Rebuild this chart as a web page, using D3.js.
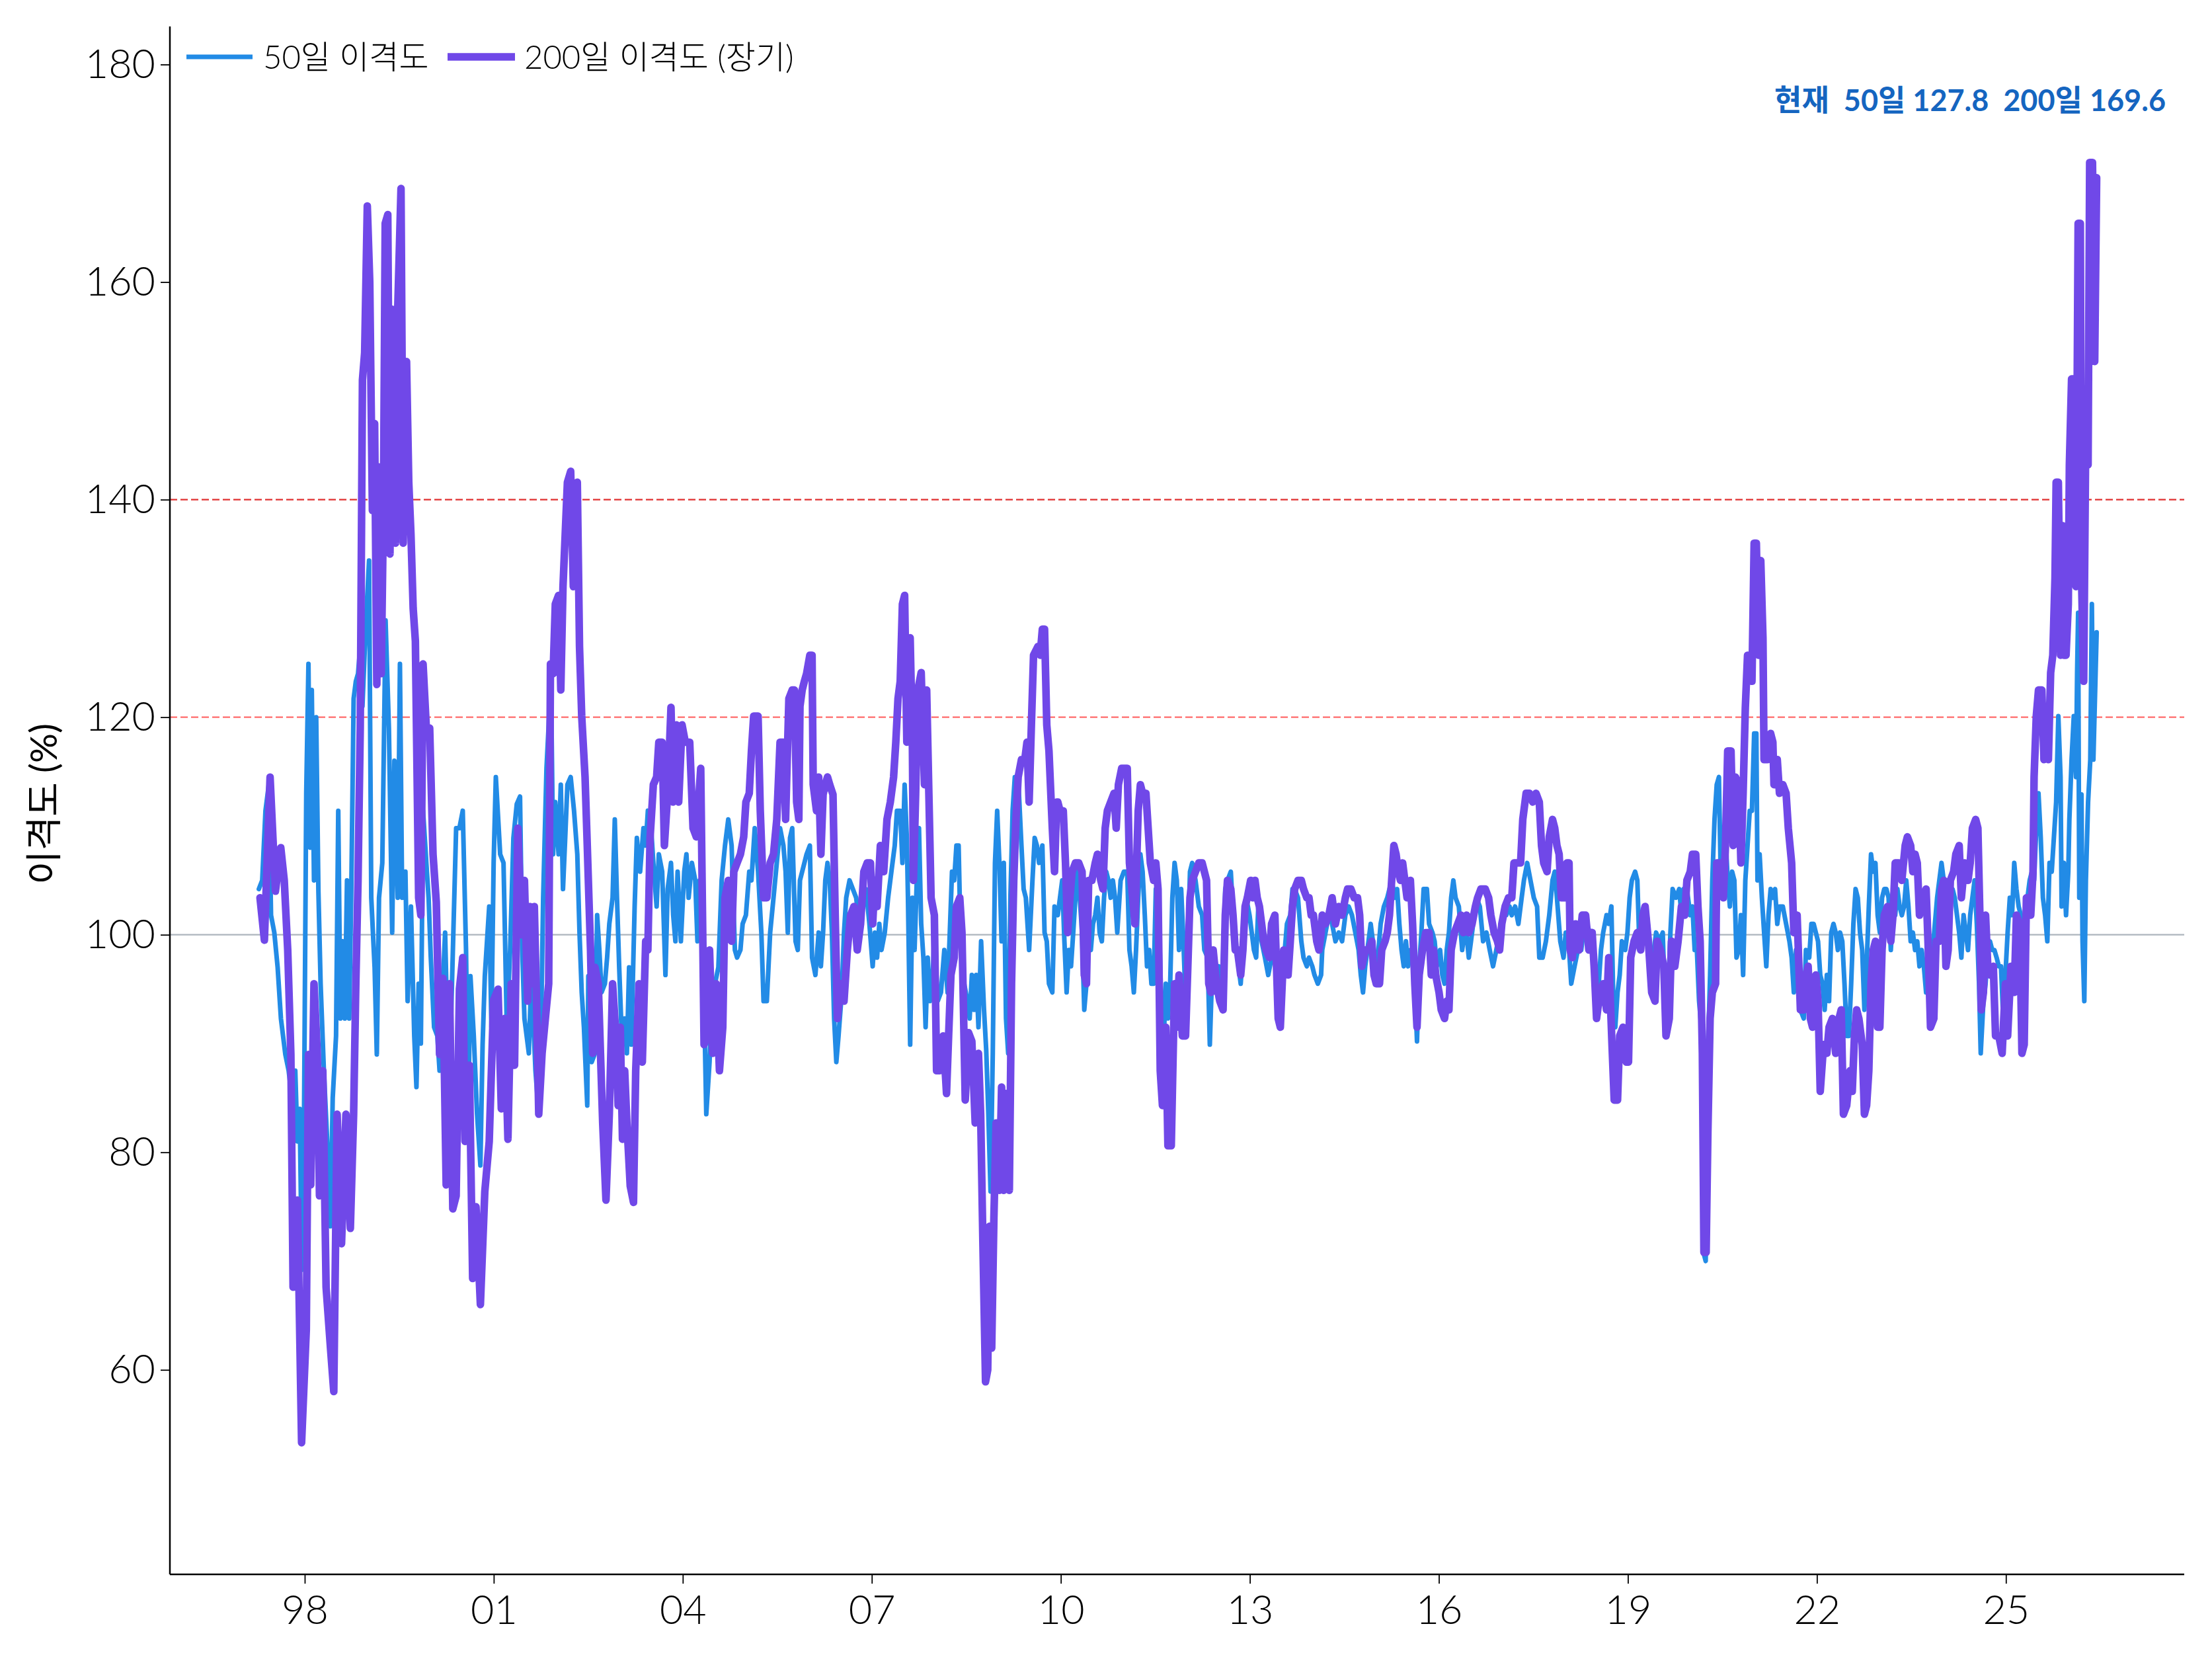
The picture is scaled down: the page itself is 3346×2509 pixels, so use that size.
<!DOCTYPE html>
<html>
<head>
<meta charset="utf-8">
<script src="https://cdn.jsdelivr.net/npm/d3@7"></script>
<style>
  html, body { margin: 0; padding: 0; background: #fff; }
  svg text { font-family: "Lato", "Noto Sans CJK KR", sans-serif; font-weight: 300; fill: #000; }
</style>
</head>
<body>
<svg id="chart" width="3346" height="2509"></svg>
<script>
// 50일 이격도: [decimal year, %]
const disp50 = [
  [1997.272,104.2],[1997.325,105],[1997.377,111.4],[1997.43,113.8],[1997.465,101.8],[1997.517,100.2],[1997.57,97],[1997.622,92.3],
  [1997.692,89],[1997.745,87.5],[1997.797,85],[1997.85,87.5],[1997.884,81],[1997.92,84],[1997.954,69.2],[1997.99,84.3],
  [1998.024,113],[1998.059,124.9],[1998.087,108],[1998.112,122.5],[1998.147,105],[1998.182,120],[1998.217,104],[1998.252,95.5],
  [1998.304,87.5],[1998.357,81],[1998.409,73.2],[1998.444,85],[1998.497,90.7],[1998.532,111.4],[1998.566,92.3],[1998.601,99.4],
  [1998.636,92.3],[1998.671,105],[1998.706,92.3],[1998.741,105],[1998.776,121.7],[1998.811,123.3],[1998.846,124],[1998.881,126.5],
  [1998.916,121],[1998.951,126],[1998.986,130.4],[1999.021,134.4],[1999.056,103.4],[1999.109,97],[1999.144,89],[1999.179,103.4],
  [1999.231,106.6],[1999.283,128.9],[1999.336,119],[1999.388,100.2],[1999.423,116],[1999.476,103.4],[1999.511,124.9],[1999.546,103.4],
  [1999.598,105.8],[1999.633,93.9],[1999.686,102.6],[1999.738,90.7],[1999.773,86],[1999.808,95.5],[1999.843,90],[1999.878,111.4],
  [1999.93,106.6],[1999.966,103.4],[2000.0,98],[2000.053,91.5],[2000.105,90.7],[2000.14,87.5],[2000.193,95.5],[2000.228,100.2],
  [2000.263,91.5],[2000.315,90.7],[2000.403,109.8],[2000.455,109.8],[2000.508,111.4],[2000.56,98.6],[2000.595,83.5],[2000.63,96.2],
  [2000.683,90.7],[2000.735,83.5],[2000.788,78.8],[2000.823,89.9],[2000.858,96.2],[2000.893,99.4],[2000.928,102.6],[2000.963,91.5],
  [2000.998,106.6],[2001.033,114.5],[2001.102,107.4],[2001.155,106.6],[2001.207,91.5],[2001.26,98.6],[2001.312,108.9],[2001.365,112],
  [2001.417,112.7],[2001.452,98.6],[2001.487,92.3],[2001.557,89.1],[2001.592,95.5],[2001.627,92.3],[2001.662,87.5],[2001.714,83.5],
  [2001.749,90.7],[2001.784,103.4],[2001.837,115.3],[2001.872,119.3],[2001.907,124],[2001.942,107.4],[2001.977,112.2],[2002.029,107.4],
  [2002.064,113.8],[2002.099,104.2],[2002.134,108.9],[2002.169,113.8],[2002.221,114.5],[2002.274,111.4],[2002.326,107.4],[2002.361,100.2],
  [2002.396,94.7],[2002.431,91.5],[2002.484,84.3],[2002.501,96.2],[2002.554,88.3],[2002.606,89.1],[2002.641,101.8],[2002.676,98.6],
  [2002.711,94.7],[2002.764,95.5],[2002.799,97.9],[2002.834,101],[2002.886,103.4],[2002.921,110.6],[2002.956,103.4],[2002.991,97],
  [2003.026,91.5],[2003.078,92.3],[2003.113,89.1],[2003.148,97],[2003.183,89.9],[2003.236,102.6],[2003.271,108.9],[2003.323,105.8],
  [2003.376,109.8],[2003.411,108.2],[2003.446,111.4],[2003.498,109.8],[2003.533,106.6],[2003.585,102.6],[2003.62,107.4],[2003.673,105.8],
  [2003.725,96.3],[2003.76,104.2],[2003.813,106.6],[2003.848,101.8],[2003.883,99.4],[2003.918,105.8],[2003.97,99.4],[2004.023,105.8],
  [2004.058,107.4],[2004.093,103.4],[2004.145,106.6],[2004.198,105],[2004.233,99.4],[2004.268,105],[2004.32,99.4],[2004.373,83.5],
  [2004.425,88.3],[2004.46,94.7],[2004.512,95.5],[2004.565,97],[2004.617,105],[2004.67,108.2],[2004.722,110.6],[2004.775,108.2],
  [2004.827,98.6],[2004.862,97.9],[2004.915,98.6],[2004.95,101],[2005.002,101.8],[2005.055,105.8],[2005.09,105],[2005.142,109.8],
  [2005.195,105.8],[2005.247,100.2],[2005.282,93.9],[2005.334,93.9],[2005.387,100.2],[2005.44,103.4],[2005.492,106.6],[2005.544,109.8],
  [2005.597,108.2],[2005.632,105.8],[2005.667,100.2],[2005.702,108.9],[2005.737,109.8],[2005.79,99.4],[2005.825,98.6],[2005.86,105],
  [2005.895,105.8],[2005.93,106.6],[2005.965,107.4],[2006.017,108.2],[2006.052,97.9],[2006.105,96.3],[2006.157,100.2],[2006.192,97.1],
  [2006.227,100.2],[2006.262,105],[2006.297,106.6],[2006.332,105],[2006.367,100.2],[2006.402,92.3],[2006.437,88.3],[2006.472,90.7],
  [2006.524,94.7],[2006.559,100.2],[2006.594,103.4],[2006.647,105],[2006.699,104.2],[2006.752,103.4],[2006.804,101],[2006.857,102.6],
  [2006.909,104.2],[2006.962,101],[2007.014,97.1],[2007.049,100.2],[2007.084,97.9],[2007.119,101],[2007.154,98.6],[2007.206,100.2],
  [2007.259,103.4],[2007.311,105.8],[2007.364,108.2],[2007.399,111.4],[2007.451,111.4],[2007.486,106.6],[2007.521,113.8],[2007.556,108.9],
  [2007.574,103.4],[2007.609,89.9],[2007.644,103.4],[2007.679,98.6],[2007.714,105],[2007.749,109.8],[2007.784,101],[2007.819,97.9],
  [2007.854,91.5],[2007.888,97.9],[2007.923,93.9],[2007.958,94.7],[2007.993,100.2],[2008.046,93.9],[2008.098,94.7],[2008.151,98.6],
  [2008.203,94.7],[2008.238,100.2],[2008.273,105.8],[2008.308,105],[2008.343,108.2],[2008.378,108.2],[2008.413,98.6],[2008.466,95.5],
  [2008.518,93.9],[2008.553,92.3],[2008.588,96.3],[2008.623,93.1],[2008.658,96.3],[2008.693,91.5],[2008.735,99.4],[2008.781,93.1],
  [2008.816,89.4],[2008.85,83.5],[2008.885,76.4],[2008.92,89.1],[2008.955,106.6],[2008.99,111.4],[2009.025,106.6],[2009.06,99.4],
  [2009.095,106.6],[2009.13,92.3],[2009.165,89.1],[2009.2,103.4],[2009.235,111.4],[2009.27,114.5],[2009.323,114.5],[2009.375,108.2],
  [2009.41,104.2],[2009.445,103.4],[2009.497,98.6],[2009.55,105],[2009.585,108.9],[2009.62,108.2],[2009.655,106.6],[2009.707,108.2],
  [2009.742,100.2],[2009.777,99.4],[2009.812,95.5],[2009.865,94.7],[2009.9,102.6],[2009.952,101.8],[2009.987,103.4],[2010.022,105],
  [2010.057,99.4],[2010.092,94.7],[2010.127,98.6],[2010.162,97.1],[2010.197,100.2],[2010.232,103.4],[2010.266,105.8],[2010.301,103.4],
  [2010.337,100.2],[2010.372,93.1],[2010.407,95.5],[2010.442,100.2],[2010.476,98.6],[2010.511,101],[2010.546,101.8],[2010.581,103.4],
  [2010.616,100.2],[2010.651,99.4],[2010.686,103.4],[2010.721,105.8],[2010.756,105],[2010.791,103.4],[2010.826,105],[2010.861,103.4],
  [2010.896,100.2],[2010.949,105],[2011.001,105.8],[2011.054,105.8],[2011.089,98.6],[2011.124,97.1],[2011.159,94.7],[2011.194,98.6],
  [2011.228,103.4],[2011.263,107.4],[2011.298,105.8],[2011.333,101.8],[2011.368,97.1],[2011.403,98.6],[2011.438,95.5],[2011.473,95.5],
  [2011.508,104.2],[2011.561,101],[2011.596,93.1],[2011.631,89.9],[2011.666,95.5],[2011.7,92.3],[2011.736,95.5],[2011.77,103.4],
  [2011.806,106.6],[2011.841,105],[2011.876,98.6],[2011.91,104.2],[2011.946,99.4],[2011.98,93.9],[2012.016,98.6],[2012.05,105.8],
  [2012.085,106.6],[2012.138,105],[2012.19,102.6],[2012.243,101.8],[2012.278,98.6],[2012.33,97.9],[2012.365,89.9],[2012.4,96.3],
  [2012.453,94.7],[2012.505,97.1],[2012.54,93.9],[2012.575,97.9],[2012.61,104.2],[2012.645,105],[2012.698,105.8],[2012.75,100.2],
  [2012.803,97.9],[2012.855,95.5],[2012.908,100.2],[2012.943,103.4],[2012.995,101.8],[2013.03,100.2],[2013.065,98.6],[2013.1,97.9],
  [2013.135,102.6],[2013.187,99.4],[2013.24,97.9],[2013.292,96.3],[2013.345,97.9],[2013.397,99.4],[2013.45,92.3],[2013.502,96.3],
  [2013.555,98.6],[2013.589,101],[2013.642,101.8],[2013.677,104.2],[2013.712,104.2],[2013.764,103.4],[2013.817,99.4],[2013.852,97.9],
  [2013.904,97.1],[2013.939,97.9],[2013.991,97.1],[2014.026,96.3],[2014.079,95.5],[2014.131,96.3],[2014.149,98.6],[2014.201,100.2],
  [2014.254,101.8],[2014.306,101],[2014.359,99.4],[2014.411,100.2],[2014.464,99.4],[2014.516,101.8],[2014.569,102.6],[2014.621,101.8],
  [2014.674,100.2],[2014.726,98.6],[2014.761,96.3],[2014.796,94.7],[2014.831,97.1],[2014.866,98.6],[2014.918,101],[2014.953,99.4],
  [2014.988,97.1],[2015.041,98.6],[2015.076,101],[2015.128,102.6],[2015.181,103.4],[2015.216,104.2],[2015.251,105],[2015.303,103.4],
  [2015.338,104.2],[2015.373,101],[2015.408,98.6],[2015.443,97.1],[2015.478,99.4],[2015.513,97.1],[2015.548,98.6],[2015.583,98.6],
  [2015.618,95.5],[2015.653,90.2],[2015.688,97.1],[2015.723,100.2],[2015.758,104.2],[2015.81,104.2],[2015.845,101],[2015.898,100.2],
  [2015.933,99.4],[2015.968,97.1],[2016.02,98.6],[2016.055,96.3],[2016.09,95.5],[2016.125,98.6],[2016.16,100.2],[2016.195,103.4],
  [2016.23,105],[2016.265,103.4],[2016.317,102.6],[2016.37,98.6],[2016.422,101],[2016.475,97.9],[2016.51,99.4],[2016.562,101.8],
  [2016.597,103.4],[2016.65,102.6],[2016.702,99.4],[2016.755,100.2],[2016.807,98.6],[2016.86,97.1],[2016.912,98.6],[2016.965,100.2],
  [2017.017,101.8],[2017.07,101.8],[2017.122,102.6],[2017.157,101.8],[2017.21,102.6],[2017.262,101],[2017.314,103.4],[2017.35,105],
  [2017.402,106.6],[2017.454,105],[2017.507,103.4],[2017.559,102.6],[2017.594,97.9],[2017.647,97.9],[2017.699,99.4],[2017.752,101.8],
  [2017.804,105],[2017.839,105.8],[2017.874,103.4],[2017.927,99.4],[2017.979,97.9],[2018.014,100.2],[2018.049,100.2],[2018.101,95.5],
  [2018.154,97.1],[2018.206,98.6],[2018.259,98.6],[2018.311,101],[2018.346,101],[2018.398,100.2],[2018.451,98.6],[2018.503,93.9],
  [2018.538,95.5],[2018.573,98.6],[2018.608,100.2],[2018.661,101.8],[2018.696,101],[2018.738,102.6],[2018.766,94.7],[2018.8,91.5],
  [2018.836,94.7],[2018.87,96.3],[2018.905,99.4],[2018.958,98.6],[2018.993,100.2],[2019.028,103.4],[2019.063,105],[2019.115,105.8],
  [2019.15,105],[2019.185,98.6],[2019.22,99.4],[2019.255,100.2],[2019.29,102.6],[2019.343,99.4],[2019.378,96.3],[2019.413,98.6],
  [2019.448,100.2],[2019.5,99.4],[2019.553,100.2],[2019.588,93.9],[2019.622,91.5],[2019.675,100.2],[2019.71,104.2],[2019.763,103.4],
  [2019.815,104.2],[2019.85,101.8],[2019.885,104.2],[2019.937,104.2],[2019.99,101.8],[2020.025,102.6],[2020.06,98.6],[2020.095,98.6],
  [2020.13,93.9],[2020.165,91.5],[2020.2,70.8],[2020.235,70],[2020.27,89.1],[2020.305,96.3],[2020.34,105],[2020.375,110.6],
  [2020.41,113.8],[2020.445,114.5],[2020.48,103.4],[2020.514,106.6],[2020.55,109],[2020.585,105],[2020.619,102.6],[2020.654,105.8],
  [2020.69,105],[2020.724,97.9],[2020.759,98.6],[2020.794,101.8],[2020.829,96.3],[2020.864,105],[2020.899,108.2],[2020.934,111.4],
  [2020.969,111.4],[2021.004,118.5],[2021.039,118.5],[2021.057,105],[2021.091,107.4],[2021.127,103.4],[2021.162,100.2],[2021.197,97.1],
  [2021.232,101.8],[2021.266,104.2],[2021.301,103.4],[2021.336,104.2],[2021.371,101],[2021.406,102.6],[2021.459,102.6],[2021.511,101],
  [2021.564,99.4],[2021.599,97.9],[2021.634,94.7],[2021.669,98.6],[2021.704,98.6],[2021.738,93.1],[2021.791,92.3],[2021.826,98.6],
  [2021.878,97.9],[2021.913,101],[2021.948,101],[2021.983,100.2],[2022.018,99.4],[2022.053,96.3],[2022.088,95.5],[2022.123,93.1],
  [2022.158,96.3],[2022.193,93.9],[2022.228,100.2],[2022.263,101],[2022.298,100.2],[2022.333,98.6],[2022.368,100.2],[2022.403,99.4],
  [2022.438,95.5],[2022.473,90.7],[2022.508,90.7],[2022.544,95.5],[2022.579,101],[2022.614,104.2],[2022.649,103.4],[2022.684,100.2],
  [2022.719,98.6],[2022.754,93.1],[2022.789,97.1],[2022.824,102.6],[2022.859,107.4],[2022.894,105.8],[2022.929,106.6],[2022.964,101.8],
  [2022.999,100.2],[2023.034,103.4],[2023.069,104.2],[2023.103,104.2],[2023.138,103.4],[2023.173,98.6],[2023.208,101.8],[2023.243,101.8],
  [2023.278,104.2],[2023.313,102.6],[2023.348,101.8],[2023.383,102.6],[2023.418,105],[2023.453,102.6],[2023.488,99.4],[2023.523,100.2],
  [2023.558,98.6],[2023.593,99.4],[2023.628,97.1],[2023.663,98.6],[2023.698,97.1],[2023.733,94.7],[2023.768,96.3],[2023.803,93.1],
  [2023.838,98.6],[2023.873,101],[2023.908,103.4],[2023.943,105],[2023.978,106.6],[2024.013,105],[2024.048,102.6],[2024.083,101.8],
  [2024.118,103.4],[2024.153,104.2],[2024.188,103.4],[2024.223,101.8],[2024.258,100.2],[2024.293,97.9],[2024.328,101.8],[2024.363,100.2],
  [2024.398,98.6],[2024.433,101.8],[2024.468,103.4],[2024.503,105],[2024.538,101],[2024.573,95.5],[2024.6,89.1],[2024.643,93.9],
  [2024.677,95.5],[2024.712,98.6],[2024.747,99.4],[2024.782,98.6],[2024.817,98.6],[2024.852,97.9],[2024.887,97.1],[2024.922,97.1],
  [2024.957,92.3],[2024.992,96.3],[2025.027,100.2],[2025.062,103.4],[2025.097,101.8],[2025.132,106.6],[2025.167,104.2],[2025.202,102.6],
  [2025.237,101.8],[2025.272,100.2],[2025.307,99.4],[2025.342,103.4],[2025.377,105],[2025.412,105.8],[2025.447,105],[2025.482,109.8],
  [2025.517,113],[2025.552,109],[2025.587,103.4],[2025.622,101.8],[2025.657,99.4],[2025.692,106.6],[2025.727,105.8],[2025.762,109],
  [2025.797,112.2],[2025.832,120.1],[2025.867,114.5],[2025.884,102.6],[2025.919,106.6],[2025.954,101.8],[2025.99,105.8],[2026.007,110.6],
  [2026.042,116.1],[2026.077,120.1],[2026.112,114.5],[2026.13,124.1],[2026.146,129.6],[2026.164,103.4],[2026.199,112.9],[2026.216,99.4],
  [2026.244,93.9],[2026.269,105],[2026.304,112.2],[2026.339,116.1],[2026.364,130.4],[2026.388,116.1],[2026.44,127.8]
];

// 200일 이격도 (장기): [decimal year, %]
const disp200 = [
  [1997.29,103.4],[1997.36,99.5],[1997.45,114.5],[1997.535,104],[1997.62,108],[1997.675,105],[1997.73,98.6],[1997.78,89],
  [1997.815,67.6],[1997.885,75.6],[1997.95,53.3],[1998.025,63.7],[1998.06,89],[1998.095,77],[1998.147,95.5],[1998.2,89],
  [1998.234,76],[1998.287,87.5],[1998.339,67.6],[1998.409,62],[1998.461,58],[1998.514,83.5],[1998.584,71.6],[1998.654,83.5],
  [1998.724,73],[1998.776,83.5],[1998.811,95.5],[1998.846,105],[1998.881,119],[1998.916,151],[1998.951,153.5],[1998.993,167],
  [1999.032,160],[1999.074,139],[1999.109,147],[1999.144,123],[1999.179,143],[1999.214,124],[1999.249,139],[1999.277,165.4],
  [1999.318,166.2],[1999.353,135],[1999.388,157.5],[1999.441,136],[1999.476,157.5],[1999.528,168.6],[1999.563,136],[1999.616,152.7],
  [1999.651,141.6],[1999.686,136.8],[1999.721,130],[1999.756,127],[1999.808,103.4],[1999.843,101.8],[1999.878,124.9],[1999.93,119],
  [1999.983,119],[2000.036,107.4],[2000.088,103],[2000.14,89],[2000.193,96],[2000.245,77],[2000.298,95.5],[2000.35,74.8],
  [2000.403,76],[2000.455,95],[2000.508,97.9],[2000.543,81],[2000.613,88],[2000.665,68.4],[2000.718,75],[2000.788,66],
  [2000.858,76.4],[2000.928,81],[2000.998,94],[2001.068,95],[2001.12,84],[2001.172,92.3],[2001.225,81.2],[2001.277,95.5],
  [2001.33,88],[2001.382,109.8],[2001.445,100],[2001.487,105],[2001.539,93.9],[2001.574,102.6],[2001.609,95.5],[2001.644,102.6],
  [2001.679,93.9],[2001.714,83.5],[2001.767,89.1],[2001.819,92.3],[2001.872,95.5],[2001.9,124.9],[2001.942,124],[2001.977,130.4],
  [2002.029,131.2],[2002.064,122.5],[2002.099,132],[2002.134,136.8],[2002.169,141.6],[2002.221,142.6],[2002.263,132],[2002.326,141.6],
  [2002.361,126.5],[2002.396,120.1],[2002.449,114.5],[2002.484,108.2],[2002.536,98.6],[2002.571,89.1],[2002.606,97],[2002.659,95.5],
  [2002.694,89.1],[2002.729,82.7],[2002.781,75.6],[2002.834,83.5],[2002.886,95.5],[2002.939,90.7],[2002.974,84.3],[2003.008,91.5],
  [2003.043,81.2],[2003.078,87.5],[2003.113,82.7],[2003.166,76.9],[2003.218,75.4],[2003.253,87.5],[2003.306,95.5],[2003.358,88.3],
  [2003.411,99.4],[2003.446,98.6],[2003.481,108.9],[2003.533,113.8],[2003.585,114.5],[2003.62,117.7],[2003.673,117.7],[2003.708,108.2],
  [2003.76,113],[2003.813,120.9],[2003.848,112.2],[2003.9,119.3],[2003.935,112.2],[2003.988,119.3],[2004.04,117.7],[2004.11,117.7],
  [2004.163,109.8],[2004.215,109],[2004.285,115.3],[2004.338,89.9],[2004.39,90.7],[2004.425,98.6],[2004.477,89.1],[2004.53,95.5],
  [2004.582,87.5],[2004.635,91.5],[2004.67,103.4],[2004.722,105],[2004.775,99.4],[2004.81,105.8],[2004.862,106.6],[2004.915,107.4],
  [2004.967,109],[2005.002,112.2],[2005.055,113],[2005.09,116.9],[2005.125,120.1],[2005.195,120.1],[2005.23,111.4],[2005.282,103.4],
  [2005.334,103.4],[2005.387,106.6],[2005.44,107.4],[2005.492,110.6],[2005.544,117.7],[2005.597,117.7],[2005.632,110.6],[2005.684,121.7],
  [2005.737,122.5],[2005.772,122.5],[2005.807,112.2],[2005.842,110.6],[2005.86,121],[2005.895,122.5],[2005.93,123.3],[2005.965,124],
  [2006.017,125.7],[2006.052,125.7],[2006.07,113.8],[2006.122,111.4],[2006.157,114.5],[2006.192,107.4],[2006.227,112.9],[2006.262,113.8],
  [2006.297,114.5],[2006.332,113.8],[2006.384,112.9],[2006.419,101.8],[2006.454,92.3],[2006.507,95.5],[2006.559,93.9],[2006.612,98.6],
  [2006.664,101.8],[2006.717,102.6],[2006.769,98.6],[2006.822,101],[2006.874,105.8],[2006.927,106.6],[2006.979,106.6],[2007.014,101],
  [2007.049,105],[2007.084,102.6],[2007.136,108.2],[2007.189,105.8],[2007.241,110.6],[2007.294,112.2],[2007.346,114.5],[2007.381,117.7],
  [2007.416,121.7],[2007.451,123.3],[2007.486,130.4],[2007.521,131.2],[2007.556,117.7],[2007.609,127.3],[2007.644,117.7],[2007.661,105],
  [2007.696,112.9],[2007.731,122.5],[2007.784,124.1],[2007.836,113.8],[2007.871,122.5],[2007.906,112.9],[2007.941,103.4],[2007.993,101.8],
  [2008.028,87.5],[2008.081,87.5],[2008.133,90.7],[2008.186,85.4],[2008.221,91],[2008.256,96.3],[2008.308,97.9],[2008.343,102.6],
  [2008.396,103.4],[2008.431,100.2],[2008.483,84.8],[2008.536,91],[2008.588,90.2],[2008.641,82.7],[2008.693,89.1],[2008.728,83.5],
  [2008.763,71.8],[2008.805,58.9],[2008.84,60],[2008.868,73.2],[2008.903,62],[2008.938,74],[2008.973,82.7],[2009.025,76.5],
  [2009.06,86],[2009.095,76.5],[2009.13,85.4],[2009.183,76.5],[2009.218,95.5],[2009.253,105],[2009.288,110.6],[2009.323,114.5],
  [2009.375,116.1],[2009.428,116.1],[2009.463,117.7],[2009.497,112.2],[2009.533,119.3],[2009.567,125.7],[2009.637,126.5],[2009.672,125.7],
  [2009.707,128.1],[2009.742,128.1],[2009.777,119.3],[2009.812,116.9],[2009.865,109.8],[2009.9,105.8],[2009.935,112.2],[2009.952,112.2],
  [2009.987,111.4],[2010.039,111.4],[2010.074,106.6],[2010.109,100.2],[2010.144,103.4],[2010.179,105.8],[2010.232,106.6],[2010.284,106.6],
  [2010.337,105.8],[2010.372,96.3],[2010.407,95.5],[2010.442,105],[2010.494,105],[2010.546,106.6],[2010.581,107.4],[2010.634,105],
  [2010.669,104.2],[2010.704,109.8],[2010.739,111.4],[2010.791,112.2],[2010.844,113],[2010.879,109.8],[2010.914,113.8],[2010.966,115.3],
  [2011.019,115.3],[2011.054,115.3],[2011.089,106.6],[2011.141,103.4],[2011.176,101],[2011.228,111.4],[2011.263,113.8],[2011.298,113],
  [2011.351,113],[2011.386,109.8],[2011.421,106.6],[2011.473,105],[2011.508,106.6],[2011.543,104.2],[2011.578,87.5],[2011.613,84.3],
  [2011.666,91.5],[2011.7,80.6],[2011.753,80.6],[2011.806,95.5],[2011.841,91.5],[2011.876,96.3],[2011.928,90.7],[2011.98,90.7],
  [2012.016,97.1],[2012.05,103.4],[2012.085,105],[2012.138,105.8],[2012.19,106.6],[2012.243,106.6],[2012.278,105.8],[2012.313,105],
  [2012.348,95.5],[2012.383,94.7],[2012.418,98.6],[2012.47,95.5],[2012.523,93.9],[2012.575,93.1],[2012.61,101.8],[2012.645,105],
  [2012.698,104.2],[2012.733,101.8],[2012.768,98.6],[2012.803,98.6],[2012.855,96.3],[2012.89,98.6],[2012.925,102.6],[2012.96,103.4],
  [2013.013,105],[2013.047,103.4],[2013.082,105],[2013.117,103.4],[2013.152,102.6],[2013.187,101],[2013.222,99.4],[2013.257,98.6],
  [2013.31,97.9],[2013.345,101],[2013.397,101.8],[2013.45,92.3],[2013.484,91.5],[2013.537,98.6],[2013.572,97.1],[2013.607,96.3],
  [2013.642,99.4],[2013.677,102.6],[2013.712,104.2],[2013.764,105],[2013.817,105],[2013.852,104.2],[2013.904,103.4],[2013.939,103.4],
  [2013.974,101.8],[2014.009,101.8],[2014.062,99.4],[2014.097,98.6],[2014.132,100.2],[2014.149,101.8],[2014.201,101],[2014.254,101.8],
  [2014.306,103.4],[2014.359,101],[2014.411,102.6],[2014.464,101.8],[2014.516,103.4],[2014.551,104.2],[2014.604,104.2],[2014.656,103.4],
  [2014.709,103.4],[2014.743,101.8],[2014.778,97.1],[2014.831,98.6],[2014.883,98.6],[2014.936,99.4],[2014.971,96.3],[2015.006,95.5],
  [2015.058,95.5],[2015.093,98.6],[2015.146,99.4],[2015.181,100.2],[2015.216,101.8],[2015.251,105],[2015.286,108.2],[2015.321,107.4],
  [2015.356,105.8],[2015.39,105],[2015.425,106.6],[2015.46,105],[2015.495,103.4],[2015.548,105],[2015.583,101],[2015.618,95.5],
  [2015.653,91.5],[2015.688,96.3],[2015.74,98.6],[2015.793,100.2],[2015.845,100.2],[2015.88,96.3],[2015.915,98.6],[2015.95,96.3],
  [2016.003,94.7],[2016.038,93.1],[2016.09,92.3],[2016.125,93.9],[2016.16,93.1],[2016.195,98.6],[2016.247,100.2],[2016.3,101],
  [2016.352,101.8],[2016.387,100.2],[2016.44,101.8],[2016.475,100.2],[2016.527,101],[2016.58,102.6],[2016.615,103.4],[2016.667,104.2],
  [2016.737,104.2],[2016.79,103.4],[2016.825,101.8],[2016.877,100.2],[2016.93,99.4],[2016.964,98.6],[2016.999,101],[2017.052,102.6],
  [2017.105,103.4],[2017.157,103.4],[2017.192,106.6],[2017.245,106.6],[2017.297,106.6],[2017.332,110.6],[2017.385,113],[2017.437,113],
  [2017.49,112.2],[2017.542,113],[2017.594,112.2],[2017.629,108.2],[2017.664,106.6],[2017.717,105.8],[2017.752,109],[2017.804,110.6],
  [2017.839,109.8],[2017.874,108.2],[2017.909,107.4],[2017.944,103.4],[2017.996,103.4],[2018.031,106.6],[2018.066,106.6],[2018.084,98.6],
  [2018.119,97.9],[2018.171,101],[2018.224,98.6],[2018.276,101.8],[2018.329,101.8],[2018.381,98.6],[2018.433,100.2],[2018.468,96.7],
  [2018.503,92.3],[2018.556,94.7],[2018.608,95.5],[2018.661,93.1],[2018.696,97.9],[2018.748,89.9],[2018.783,84.8],[2018.836,84.8],
  [2018.87,90.7],[2018.923,91.5],[2018.975,88.3],[2019.01,88.3],[2019.045,97.9],[2019.098,99.4],[2019.15,100.2],[2019.203,98.6],
  [2019.238,101.8],[2019.273,102.6],[2019.325,99.4],[2019.378,94.7],[2019.43,93.9],[2019.465,99.4],[2019.518,98.6],[2019.57,97.1],
  [2019.605,90.7],[2019.657,92.3],[2019.692,99.4],[2019.745,97.1],[2019.797,99.4],[2019.85,102.6],[2019.902,101.8],[2019.937,105],
  [2019.99,105.8],[2020.025,107.4],[2020.077,107.4],[2020.112,102.6],[2020.147,99.4],[2020.182,89.1],[2020.207,70.8],[2020.242,70.8],
  [2020.27,81.9],[2020.305,92.3],[2020.34,94.7],[2020.392,95.5],[2020.41,106.6],[2020.462,106.6],[2020.515,103.4],[2020.549,108.2],
  [2020.584,116.9],[2020.637,116.9],[2020.672,108.2],[2020.707,114.5],[2020.759,113.8],[2020.794,106.6],[2020.829,113],[2020.864,120.9],
  [2020.899,125.7],[2020.934,124.9],[2020.969,123.3],[2021.004,136],[2021.039,136],[2021.074,125.7],[2021.109,134.4],[2021.144,127.3],
  [2021.161,116.1],[2021.214,116.1],[2021.266,118.5],[2021.301,117.7],[2021.319,113.8],[2021.371,116.1],[2021.406,113],[2021.459,113.8],
  [2021.511,113],[2021.546,109.8],[2021.599,106.6],[2021.634,100.2],[2021.686,101.8],[2021.738,93.1],[2021.791,93.1],[2021.826,96.3],
  [2021.861,97.1],[2021.896,92.3],[2021.931,91.5],[2021.983,96.3],[2022.018,93.9],[2022.053,85.6],[2022.106,89.9],[2022.158,89.1],
  [2022.193,91.5],[2022.246,92.3],[2022.298,89.1],[2022.351,92.3],[2022.386,93.1],[2022.421,83.5],[2022.473,84.3],[2022.525,87.5],
  [2022.561,85.6],[2022.596,90.7],[2022.631,93.1],[2022.666,92.3],[2022.719,89.9],[2022.754,83.5],[2022.789,84.3],[2022.824,87.5],
  [2022.859,95.5],[2022.894,98.6],[2022.929,99.4],[2022.964,91.5],[2022.999,91.5],[2023.034,98.6],[2023.069,101.8],[2023.121,102.6],
  [2023.173,99.4],[2023.208,101.8],[2023.243,106.6],[2023.296,106.6],[2023.348,105],[2023.401,108.2],[2023.436,109],[2023.488,108.2],
  [2023.523,105.8],[2023.558,107.4],[2023.593,106.6],[2023.628,101.8],[2023.681,103.4],[2023.733,104.2],[2023.768,98.6],[2023.803,91.5],
  [2023.856,92.3],[2023.891,99.4],[2023.943,99.4],[2023.978,104.2],[2024.013,105],[2024.048,97.1],[2024.083,98.6],[2024.118,105],
  [2024.17,105.8],[2024.205,107.4],[2024.258,108.2],[2024.293,103.4],[2024.345,106.6],[2024.398,105],[2024.433,106.6],[2024.468,109.8],
  [2024.52,110.6],[2024.555,109.8],[2024.59,101],[2024.608,93.1],[2024.643,94.7],[2024.677,101.8],[2024.712,97.1],[2024.747,96.3],
  [2024.8,97.1],[2024.835,90.7],[2024.887,90.7],[2024.94,89.1],[2024.992,95.5],[2025.027,90.7],[2025.08,97.1],[2025.132,94.7],
  [2025.167,101.8],[2025.22,101],[2025.254,89.1],[2025.29,89.9],[2025.325,103.4],[2025.36,103.4],[2025.394,101.8],[2025.43,105.8],
  [2025.447,114.5],[2025.482,120.1],[2025.517,122.5],[2025.57,122.5],[2025.604,116.1],[2025.64,118.5],[2025.674,116.1],[2025.71,124.1],
  [2025.744,125.7],[2025.779,132.8],[2025.797,141.6],[2025.832,141.6],[2025.867,125.7],[2025.902,137.6],[2025.92,125.7],[2025.954,125.7],
  [2025.99,130.4],[2026.007,143.2],[2026.042,151.1],[2026.077,151.1],[2026.112,132],[2026.146,165.4],[2026.181,165.4],[2026.2,132.8],
  [2026.234,123.3],[2026.27,147.9],[2026.304,143.2],[2026.329,171],[2026.374,171],[2026.409,152.7],[2026.44,169.6]
];

const xTickYears = [1998, 2001, 2004, 2007, 2010, 2013, 2016, 2019, 2022, 2025];
const yTickValues = [60, 80, 100, 120, 140, 160, 180];
const refLevels = [100, 120, 140];
const seriesNames = ["50일 이격도", "200일 이격도 (장기)"];
const yLabel = "이격도 (%)";

const width = 3346, height = 2509;
const margin = { top: 40, right: 42, bottom: 128, left: 257 };
const w = width - margin.left - margin.right;
const h = height - margin.top - margin.bottom;

const svg = d3.select("#chart");
const g = svg.append("g").attr("transform", `translate(${margin.left},${margin.top})`);

const x = d3.scaleLinear().domain([1995.86, 2027.83]).range([0, w]);
const y = d3.scaleLinear().domain([41.2, 183.5]).range([h, 0]);

const colors = { s50: "#228be6", s200: "#7048e8" };
const widths = { s50: 7, s200: 11.5 };
const refStyle = {
  100: { stroke: "#adb5bd", dash: null, width: 2.2 },
  120: { stroke: "#ff6b6b", dash: "11,5", width: 2.4 },
  140: { stroke: "#e03131", dash: "11,5", width: 2.4 }
};

// reference lines
refLevels.forEach(v => {
  const s = refStyle[v];
  g.append("line")
    .attr("x1", 0).attr("x2", w)
    .attr("y1", y(v)).attr("y2", y(v))
    .attr("stroke", s.stroke)
    .attr("stroke-width", s.width)
    .attr("stroke-dasharray", s.dash);
});

const line = d3.line().x(d => x(d[0])).y(d => y(d[1]));

g.append("path")
  .datum(disp50)
  .attr("d", line)
  .attr("fill", "none")
  .attr("stroke", colors.s50)
  .attr("stroke-width", widths.s50)
  .attr("stroke-linejoin", "round")
  .attr("stroke-linecap", "round");

g.append("path")
  .datum(disp200)
  .attr("d", line)
  .attr("fill", "none")
  .attr("stroke", colors.s200)
  .attr("stroke-width", widths.s200)
  .attr("stroke-linejoin", "round")
  .attr("stroke-linecap", "round");

// axes
const yAxis = g.append("g")
  .call(d3.axisLeft(y).tickValues(yTickValues).tickSize(14).tickSizeOuter(0).tickPadding(8));
const xAxis = g.append("g")
  .attr("transform", `translate(0,${h})`)
  .call(d3.axisBottom(x).tickValues(xTickYears)
    .tickFormat(d => String(d % 100).padStart(2, "0"))
    .tickSize(14).tickSizeOuter(0).tickPadding(18));

[yAxis, xAxis].forEach(ax => {
  ax.select(".domain").attr("stroke", "#000").attr("stroke-width", 2.5);
  ax.selectAll(".tick line").attr("stroke", "#000").attr("stroke-width", 1.8);
  ax.selectAll(".tick text").style("font-size", "61px").attr("fill", "#000");
});
yAxis.select(".domain").attr("d", `M0,0V${h}`);
xAxis.select(".domain").attr("d", `M0,0H${w}`);

// y label
svg.append("text")
  .attr("transform", "translate(86,1216) rotate(-90)")
  .attr("text-anchor", "middle")
  .style("font-size", "56px")
  .style("font-weight", "400")
  .text(yLabel);

// legend
const legend = svg.append("g");
const legendItems = [
  { name: seriesNames[0], color: colors.s50, sw: widths.s50, x0: 282, x1: 382, tx: 398 },
  { name: seriesNames[1], color: colors.s200, sw: widths.s200, x0: 677, x1: 779, tx: 793 }
];
legendItems.forEach(it => {
  legend.append("line")
    .attr("x1", it.x0).attr("x2", it.x1)
    .attr("y1", 86).attr("y2", 86)
    .attr("stroke", it.color).attr("stroke-width", it.sw);
  legend.append("text")
    .attr("x", it.tx).attr("y", 104)
    .style("font-size", "49px")
    .text(it.name);
});

// current value annotation
const last50 = disp50[disp50.length - 1][1];
const last200 = disp200[disp200.length - 1][1];
svg.append("text")
  .attr("x", 3276).attr("y", 168)
  .attr("text-anchor", "end")
  .style("font-size", "45px")
  .style("font-weight", "700")
  .style("fill", "#1565c0")
  .style("white-space", "pre")
  .text(`현재  50일 ${last50.toFixed(1)}  200일 ${last200.toFixed(1)}`);
</script>
</body>
</html>
